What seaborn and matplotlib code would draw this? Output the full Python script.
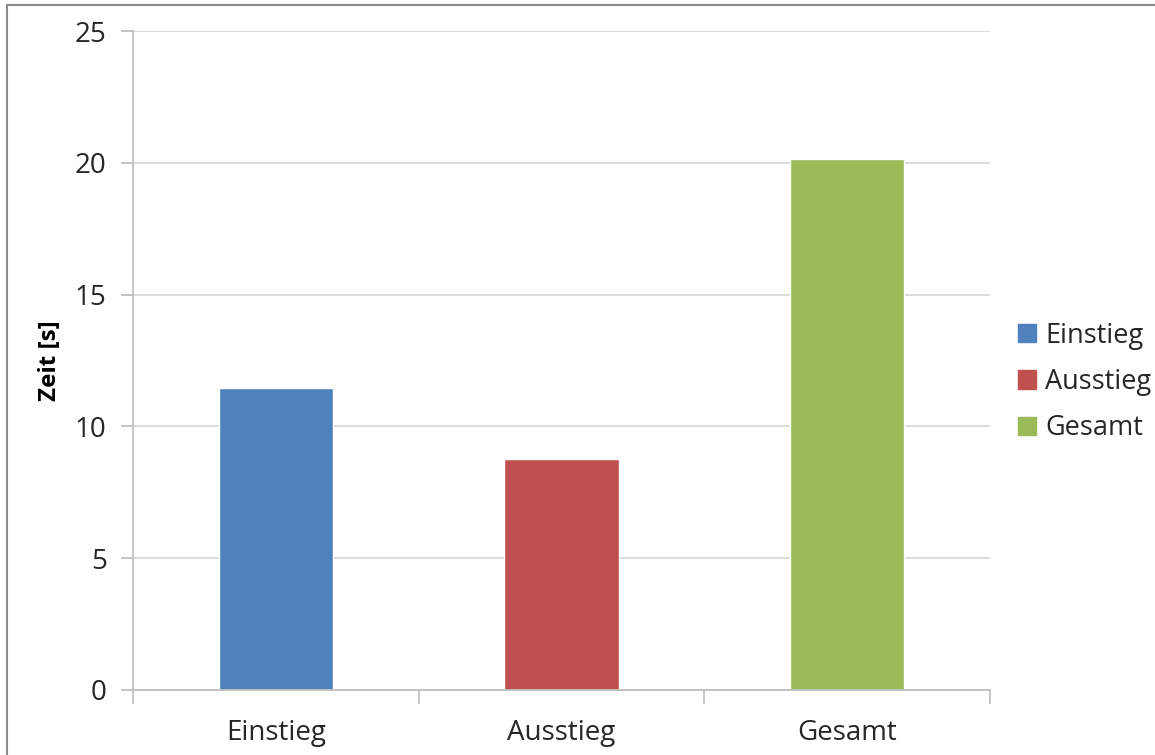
import matplotlib
matplotlib.use("Agg")
import matplotlib.pyplot as plt
import seaborn as sns
import pandas as pd
from matplotlib.lines import Line2D

categories = ["Einstieg", "Ausstieg", "Gesamt"]
values = [11.45, 8.75, 20.15]
colors = ["#4F81BD", "#C0504D", "#9BBB59"]
y_ticks = [0, 5, 10, 15, 20, 25]
y_label = "Zeit [s]"

sns.set_theme(style="white")
plt.rcParams['font.family'] = ['Open Sans', 'DejaVu Sans']

df = pd.DataFrame({"cat": categories, "val": values})

fig = plt.figure(figsize=(11.55, 7.55), dpi=100)
ax = fig.add_axes([133/1155, 1-690/755, (990-133)/1155, (690-31)/755])

sns.barplot(data=df, x="cat", y="val", hue="cat", palette=colors,
            order=categories, hue_order=categories, width=0.4,
            dodge=False, legend=False, ax=ax, saturation=1)

ax.set_ylim(0, 25)
ax.set_xlim(-0.5, 2.5)
ax.set_yticks(y_ticks)
ax.set_yticklabels([str(t) for t in y_ticks])
ax.yaxis.grid(True, color="#D9D9D9", linewidth=1.3)
ax.set_axisbelow(True)
for s in ["top", "right"]:
    ax.spines[s].set_visible(False)
for s in ["left", "bottom"]:
    ax.spines[s].set_color("#BFBFBF")
    ax.spines[s].set_linewidth(1.3)

ax.set_xlabel("")
ax.set_ylabel(y_label, fontsize=17.5, fontweight="bold", color="black")
ax.yaxis.set_label_coords(-0.083, 0.5)
ax.tick_params(axis="y", which="major", length=9, width=1.3, color="#BFBFBF",
               labelsize=20, left=True, pad=10)
ax.tick_params(axis="y", labelcolor="#262626")
ax.tick_params(axis="x", which="major", length=0, labelsize=20, labelcolor="#262626", pad=21)
ax.set_xticks([-0.5, 0.5, 1.5, 2.5], minor=True)
ax.tick_params(axis="x", which="minor", length=10, width=1.3, color="#BFBFBF", bottom=True)

handles = [plt.Rectangle((0, 0), 1, 1, color=c) for c in colors]
fig.legend(handles, categories, loc="center left",
           bbox_to_anchor=(1007/1155, 1-382/755), frameon=False, borderaxespad=0,
           fontsize=19.5, handlelength=0.67, handleheight=0.67,
           handletextpad=0.33, labelspacing=0.68, labelcolor="#262626")

# outer border (top & left)
fig.add_artist(Line2D([7/1155, 1], [1-5/755, 1-5/755], color="#8C8C8C", linewidth=1.5,
                      transform=fig.transFigure))
fig.add_artist(Line2D([7/1155, 7/1155], [0, 1-5/755], color="#8C8C8C", linewidth=1.5,
                      transform=fig.transFigure))

fig.savefig("out.png", dpi=100, facecolor="white")
